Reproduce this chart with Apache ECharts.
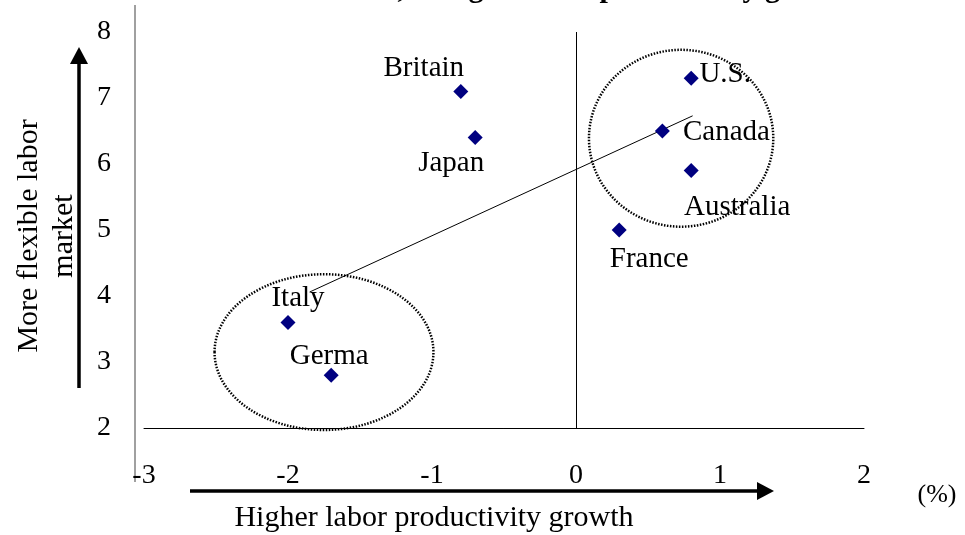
<!DOCTYPE html>
<html>
<head>
<meta charset="utf-8">
<script src="https://cdn.jsdelivr.net/npm/echarts@6/dist/echarts.min.js"></script>
<style>
  html, body { margin: 0; padding: 0; background: #fff; }
  #chart { width: 965px; height: 535px; }
</style>
</head>
<body>
<div id="chart"></div>
<script>
// data
const countries = ['Britain', 'Japan', 'U.S.', 'Canada', 'Australia', 'France', 'Italy', 'Germa']
const productivityGrowth = [-0.8, -0.7, 0.8, 0.6, 0.8, 0.3, -2.0, -1.7]
const flexibility = [7.1, 6.4, 7.3, 6.5, 5.9, 5.0, 3.6, 2.8]
const trendX = [-1.85, 0.81]
const trendY = [4.06, 6.73]

// label placement (pixels, relative to the marker)
const labelOffset = {
  'Britain': [-37, -23],
  'Japan': [-24, 26],
  'U.S.': [34, -4],
  'Canada': [64, 1],
  'Australia': [46, 37],
  'France': [30, 29],
  'Italy': [10, -24],
  'Germa': [-2, -19]
}

// dotted circles: center x, center y, radius x, radius y (axis units)
const circles = [
  [0.73, 6.39, 0.64, 1.34],
  [-1.75, 3.15, 0.76, 1.18]
]

const serif = '"Liberation Serif", "Times New Roman", serif'

const chart = echarts.init(document.getElementById('chart'))

const points = countries.map((name, i) => ({
  name: name,
  value: [productivityGrowth[i], flexibility[i]],
  label: { offset: labelOffset[name] }
}))

const option = {
  animation: false,
  grid: { left: 144, right: 101, top: 32, bottom: 107 },
  xAxis: {
    type: 'value',
    min: -3,
    max: 2,
    interval: 1,
    splitLine: { show: false },
    axisTick: { show: false },
    axisLine: { show: true, onZero: false, lineStyle: { color: '#000', width: 1 } },
    axisLabel: { color: '#000', fontFamily: serif, fontSize: 28, margin: 34 }
  },
  yAxis: {
    type: 'value',
    min: 2,
    max: 8,
    interval: 1,
    splitLine: { show: false },
    axisTick: { show: false },
    axisLine: { show: false },
    axisLabel: { color: '#000', fontFamily: serif, fontSize: 28, margin: 33 }
  },
  series: [
    {
      type: 'line',
      data: trendX.map((x, i) => [x, trendY[i]]),
      symbol: 'none',
      lineStyle: { color: '#000', width: 1 },
      z: 1
    },
    {
      type: 'scatter',
      data: points,
      symbol: 'diamond',
      symbolSize: 15,
      itemStyle: { color: '#000080', opacity: 1 },
      label: {
        show: true,
        position: 'inside',
        formatter: '{b}',
        color: '#000',
        fontFamily: serif,
        fontSize: 29
      },
      markLine: {
        silent: true,
        symbol: 'none',
        label: { show: false },
        lineStyle: { color: '#000', width: 1, type: 'solid' },
        data: [{ xAxis: 0 }]
      },
      z: 3
    }
  ]
}

chart.setOption(option)

// decorations drawn after the scales exist
const graphics = []

circles.forEach(c => {
  const p0 = chart.convertToPixel({ gridIndex: 0 }, [c[0], c[1]])
  const p1 = chart.convertToPixel({ gridIndex: 0 }, [c[0] + c[2], c[1] + c[3]])
  graphics.push({
    type: 'ellipse',
    shape: { cx: p0[0], cy: p0[1], rx: Math.abs(p1[0] - p0[0]), ry: Math.abs(p1[1] - p0[1]) },
    style: { fill: 'none', stroke: '#000', lineWidth: 2.5, lineDash: [1.5, 1.5] },
    z: 2
  })
})

// frame line on the left
graphics.push({
  type: 'line',
  shape: { x1: 135, y1: 5, x2: 135, y2: 482 },
  style: { stroke: '#808080', lineWidth: 1.5 }
})

// arrows
graphics.push(
  { type: 'line', shape: { x1: 79, y1: 388, x2: 79, y2: 62 }, style: { stroke: '#000', lineWidth: 3.5 } },
  { type: 'polygon', shape: { points: [[79, 47], [70, 64], [88, 64]] }, style: { fill: '#000' } },
  { type: 'line', shape: { x1: 190, y1: 491, x2: 758, y2: 491 }, style: { stroke: '#000', lineWidth: 3.5 } },
  { type: 'polygon', shape: { points: [[774, 491], [757, 482], [757, 500]] }, style: { fill: '#000' } }
)

// texts
graphics.push(
  {
    type: 'text',
    x: 47, y: 236,
    rotation: Math.PI / 2,
    style: {
      text: 'More flexible labor\nmarket',
      font: '30px ' + serif,
      fill: '#000',
      align: 'center',
      verticalAlign: 'middle',
      lineHeight: 35
    }
  },
  {
    type: 'text',
    x: 434, y: 518,
    style: { text: 'Higher labor productivity growth', font: '30px ' + serif, fill: '#000', align: 'center', verticalAlign: 'middle' }
  },
  {
    type: 'text',
    x: 937, y: 495,
    style: { text: '(%)', font: '26px ' + serif, fill: '#000', align: 'center', verticalAlign: 'middle' }
  },
  {
    type: 'text',
    x: 856, y: 4,
    style: { text: 'Labor market reforms, and growth in productivity growth', font: 'bold 30px ' + serif, fill: '#000', align: 'right', verticalAlign: 'bottom' }
  }
)

chart.setOption({ graphic: graphics })

window.addEventListener('resize', () => chart.resize())
</script>
</body>
</html>
